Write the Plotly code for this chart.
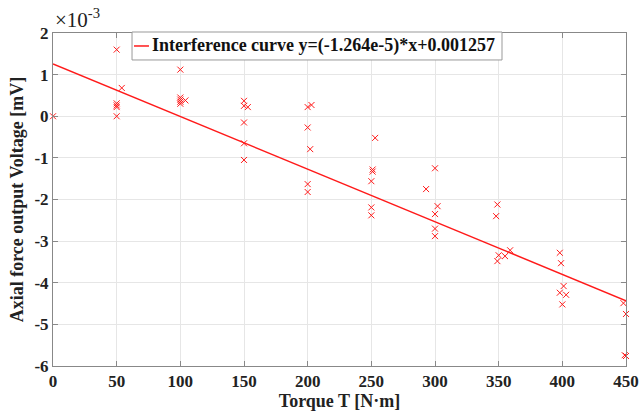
import plotly.graph_objects as go

# Data (voltage in units of 1e-3 mV)
torque = [0, 50, 50, 50, 50, 50, 54,
          100, 100, 100, 100, 100, 104,
          150, 150, 153, 150, 150, 150,
          200, 203, 200, 202, 200, 200,
          253, 251, 251, 250, 250, 250,
          300, 293, 302, 300, 300, 300,
          349, 348, 359, 350, 355, 349,
          398, 399, 401, 398, 403, 400,
          448, 450, 449, 450, 451]
voltage = [0, 1.60, 0.31, 0.26, 0.22, 0.0, 0.68,
           1.12, 0.45, 0.40, 0.35, 0.30, 0.38,
           0.37, 0.25, 0.22, -0.15, -0.65, -1.05,
           0.22, 0.27, -0.27, -0.79, -1.63, -1.82,
           -0.52, -1.28, -1.33, -1.56, -2.19, -2.38,
           -1.25, -1.75, -2.16, -2.35, -2.70, -2.88,
           -2.12, -2.40, -3.22, -3.34, -3.36, -3.48,
           -3.28, -3.53, -4.08, -4.24, -4.29, -4.52,
           -4.49, -4.75, -5.74, -5.76, -5.78]

slope = -1.264e-5
intercept = 0.001257
fit_x = [0, 450]
fit_y = [(slope * x + intercept) * 1e3 for x in fit_x]
legend_label = "Interference curve y=(-1.264e-5)*x+0.001257"

x_ticks = [0, 50, 100, 150, 200, 250, 300, 350, 400, 450]
y_ticks = [-6, -5, -4, -3, -2, -1, 0, 1, 2]

FONT = "Liberation Serif, Times New Roman, serif"
RED = "#ff1a1a"
TXT = "#222222"

fig = go.Figure()
fig.add_trace(go.Scatter(
    x=torque, y=voltage, mode="markers", showlegend=False,
    marker=dict(symbol="x-thin", size=6, line=dict(color=RED, width=1), color=RED),
    cliponaxis=False,
))
fig.add_trace(go.Scatter(
    x=fit_x, y=fit_y, mode="lines", showlegend=False,
    name=legend_label,
    line=dict(color=RED, width=1.5),
))

axis_common = dict(
    showline=True, linecolor="#888888", linewidth=1, mirror="allticks",
    ticks="inside", ticklen=5, tickcolor="#888888",
    showgrid=True, gridcolor="#e6e6e6", gridwidth=1, zeroline=False,
    tickfont=dict(family=FONT, size=17, color=TXT),
    automargin=False,
)

fig.update_xaxes(
    range=[0, 450], tickvals=x_ticks,
    ticktext=["<b>%d</b>" % v for v in x_ticks],
    title=dict(text="<b>Torque T [N·m]</b>", font=dict(family=FONT, size=18, color=TXT), standoff=3),
    **axis_common,
)
fig.update_yaxes(
    range=[-6, 2], tickvals=y_ticks,
    ticktext=["<b>%d</b>" % v for v in y_ticks],
    title=dict(text="<b>Axial force output Voltage [mV]</b>", font=dict(family=FONT, size=18, color=TXT), standoff=6),
    **axis_common,
)

fig.add_annotation(
    xref="paper", yref="paper", x=0.0, y=1.0, xanchor="left", yanchor="bottom",
    text="×10<sup>-3</sup>", showarrow=False, yshift=-1,
    font=dict(family=FONT, size=21, color=TXT),
)

# Legend box drawn in MATLAB style (short line sample)
fig.add_shape(type="rect", xref="paper", yref="paper",
              x0=0.1379, x1=0.7836, y0=0.919, y1=1.003,
              fillcolor="white", line=dict(color="#999999", width=1), layer="above")
fig.add_shape(type="line", xref="paper", yref="paper",
              x0=0.1414, x1=0.1675, y0=0.961, y1=0.961,
              line=dict(color=RED, width=1.5), layer="above")
fig.add_annotation(
    xref="paper", yref="paper", x=0.1693, y=0.961, xanchor="left", yanchor="middle",
    text="<b>" + legend_label + "</b>", showarrow=False,
    font=dict(family=FONT, size=18, color="#111111"),
)

fig.update_layout(
    width=641, height=415,
    margin=dict(l=53, r=15, t=33, b=49),
    plot_bgcolor="white", paper_bgcolor="white",
)

# Remove the default 8px page margin so the 641x415 figure fills the window.
fig.write_html("out.html",
               config={"displayModeBar": False},
               post_script="document.body.style.margin='0';document.body.style.overflow='hidden';")
